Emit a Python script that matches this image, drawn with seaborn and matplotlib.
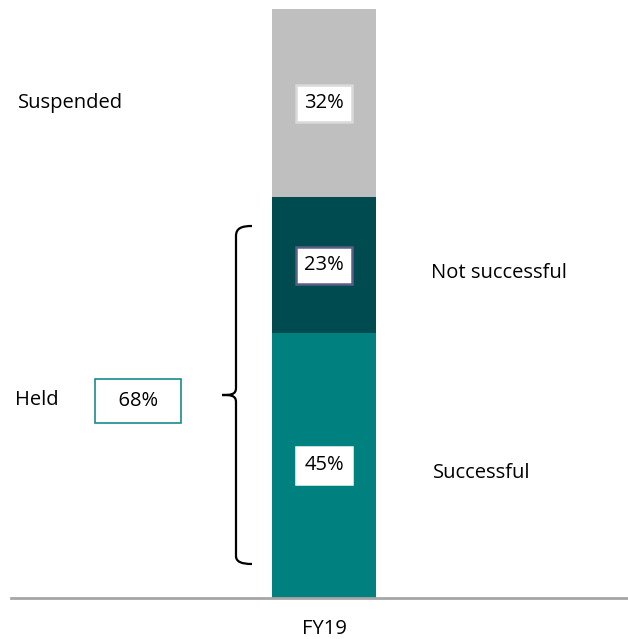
import matplotlib
matplotlib.use("Agg")
import matplotlib.pyplot as plt
import seaborn as sns
from matplotlib.path import Path
from matplotlib.patches import PathPatch

categories = ["FY19"]
segments = ["Successful", "Not successful", "Suspended"]
values = [45, 23, 32]
held_label = "Held"
held_value = 68
colors = ["#00807F", "#004B4F", "#BFBFBF"]
label_edges = ["#FFFFFF", "#5B5E86", "#D9D9D9"]

sns.set_theme(style="white")
plt.rcParams["font.family"] = ["Open Sans", "DejaVu Sans"]
plt.rcParams["text.color"] = "black"

FS = 14.5
W, H = 628, 639
fig = plt.figure(figsize=(W / 100, H / 100), dpi=100)
ax = fig.add_axes([11 / W, (H - 598) / H, (W - 11) / W, (598 - 9) / H])

bottom = 0
for i, (seg, v) in enumerate(zip(segments, values)):
    sns.barplot(x=[categories[0]], y=[v], bottom=bottom, color=colors[i],
                width=0.4, saturation=1, ax=ax, linewidth=0)
    ax.text(0, bottom + v * 0.5, f"{v}%", ha="center", va="center", fontsize=FS,
            color="black",
            bbox=dict(boxstyle="square,pad=0.42", facecolor="white",
                      edgecolor=label_edges[i], linewidth=1.8))
    bottom += v

ax.set_xlim(-1.204, 1.169)
ax.set_ylim(0, 100)
ax.set_yticks([])
ax.set_xlabel("")
ax.set_ylabel("")
for s in ["top", "left", "right"]:
    ax.spines[s].set_visible(False)
ax.spines["bottom"].set_color("#A6A6A6")
ax.spines["bottom"].set_linewidth(2)
ax.tick_params(axis="x", length=0, pad=15, labelsize=FS, colors="black")

# side labels
fig.text(18 / W, 1 - 103 / H, "Suspended", ha="left", va="center", fontsize=FS, color="black")
fig.text(15 / W, 1 - 400 / H, held_label, ha="left", va="center", fontsize=FS, color="black")
fig.text(431 / W, 1 - 273 / H, "Not successful", ha="left", va="center", fontsize=FS, color="black")
fig.text(433 / W, 1 - 473 / H, "Successful", ha="left", va="center", fontsize=FS, color="black")

# held box
fig.text(138 / W, 1 - 401 / H, f"  {held_value}%  ", ha="center", va="center", fontsize=FS,
         color="black",
         bbox=dict(boxstyle="square,pad=0.62", facecolor="white", edgecolor="#1A8C8A", linewidth=1.2))

# brace
verts_px = [(252, 226), (242, 226), (236, 228), (236, 236),
            (236, 388),
            (236, 395), (230, 395), (222, 395),
            (230, 395), (236, 395), (236, 402),
            (236, 556),
            (236, 562), (242, 564), (252, 564)]
codes = [Path.MOVETO, Path.CURVE4, Path.CURVE4, Path.CURVE4,
         Path.LINETO,
         Path.CURVE4, Path.CURVE4, Path.CURVE4,
         Path.CURVE4, Path.CURVE4, Path.CURVE4,
         Path.LINETO,
         Path.CURVE4, Path.CURVE4, Path.CURVE4]
verts = [(x / W, 1 - y / H) for x, y in verts_px]
fig.patches.append(PathPatch(Path(verts, codes), transform=fig.transFigure,
                             fill=False, edgecolor="black", linewidth=1.6))

fig.savefig("out.png", dpi=100)
